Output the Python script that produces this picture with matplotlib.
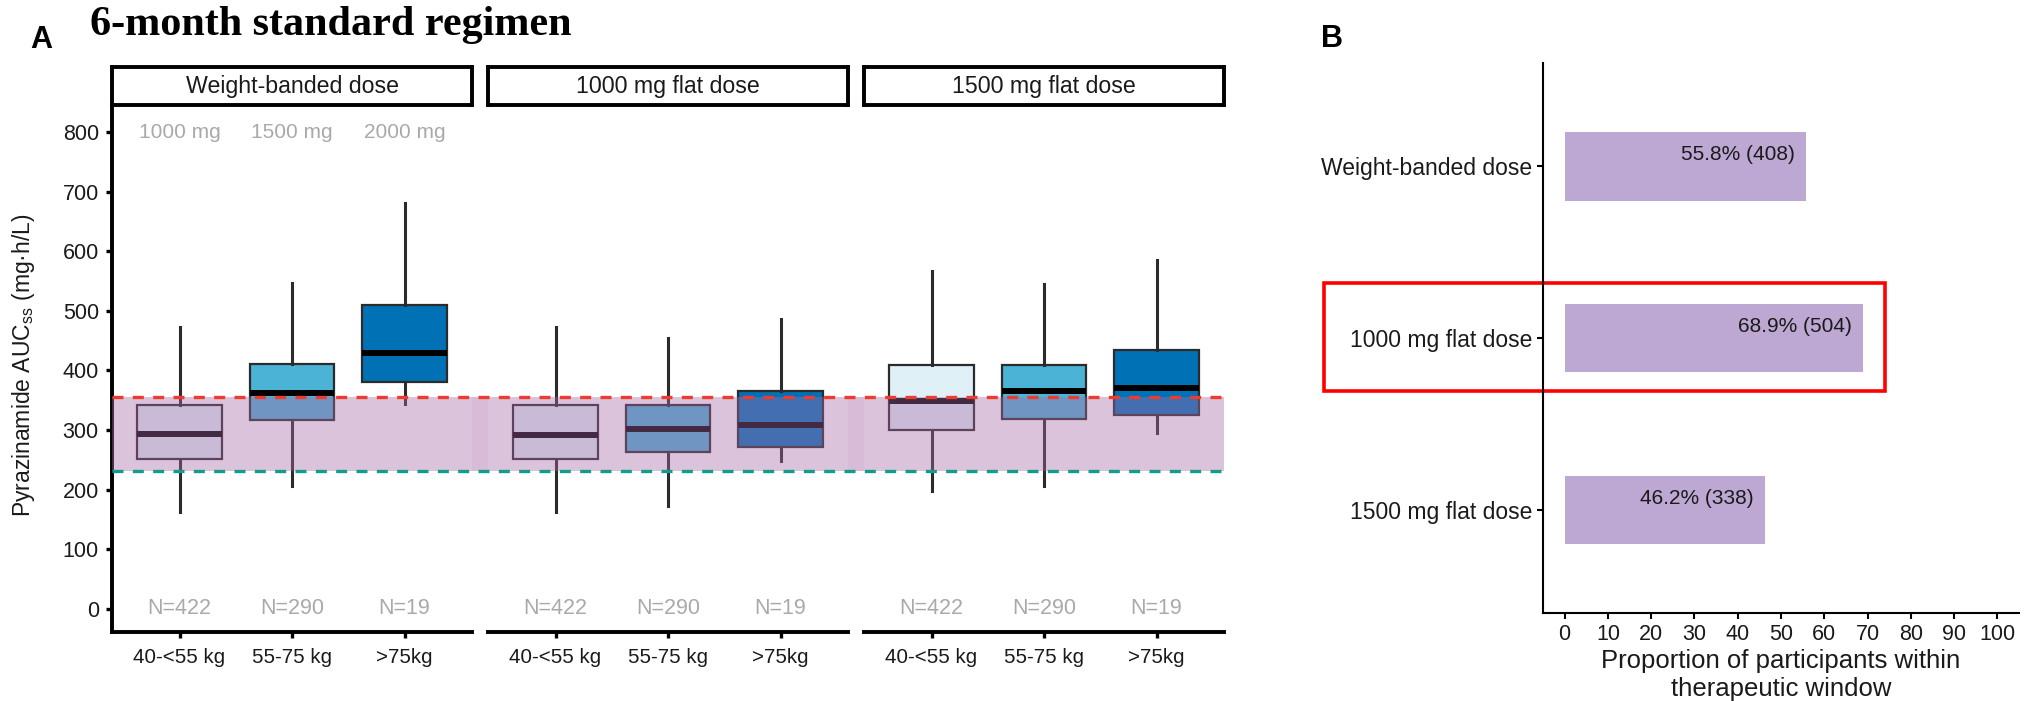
import matplotlib
matplotlib.use('Agg')
import matplotlib.pyplot as plt
from matplotlib.patches import Rectangle

plt.rcParams['font.family'] = ['Liberation Sans', 'DejaVu Sans']
plt.rcParams['mathtext.fontset'] = 'custom'
plt.rcParams['mathtext.rm'] = 'Liberation Sans'

# --- data -------------------------------------------------------------
facets = ['Weight-banded dose', '1000 mg flat dose', '1500 mg flat dose']
weight_bands = ['40-<55 kg', '55-75 kg', '>75kg']
n_per_band = [422, 290, 19]
banded_doses = ['1000 mg', '1500 mg', '2000 mg']

# box stats per facet, one value per weight band
whislo = [[163, 207, 344], [163, 172, 248], [198, 207, 296]]
q1 = [[252, 317, 381], [252, 264, 272], [301, 318, 325]]
med = [[293, 363, 430], [292, 302, 309], [349, 365, 371]]
q3 = [[342, 411, 510], [342, 342, 366], [409, 409, 435]]
whishi = [[473, 546, 681], [473, 455, 487], [567, 545, 585]]

window_low = 232
window_high = 355

dose_groups = ['Weight-banded dose', '1000 mg flat dose', '1500 mg flat dose']
pct_in_window = [55.8, 68.9, 46.2]
n_in_window = [408, 504, 338]

# --- styling ----------------------------------------------------------
W, H = 2030, 701
box_colors = ['#dff0f7', '#4ab3d6', '#0071b5']
band_color = '#a96ba8'
gray_txt = '#a9a9a9'
ink = '#1a1a1a'

fig = plt.figure(figsize=(W / 100, H / 100), dpi=100)


def fig_rect(x0, y0, x1, y1):
    # pixel box (top-left origin) -> figure fraction rect
    return [x0 / W, 1 - y1 / H, (x1 - x0) / W, (y1 - y0) / H]


ylim_a = (-38.6, 845.3)
panel_w, gap = 360, 16
panel_left0 = 112
panel_top, panel_bot = 105, 632

panels = []
for i, facet in enumerate(facets):
    left = panel_left0 + i * (panel_w + gap)
    ax = fig.add_axes(fig_rect(left, panel_top, left + panel_w, panel_bot))
    panels.append(ax)

    stats = []
    for j in range(3):
        stats.append({'med': med[i][j], 'q1': q1[i][j], 'q3': q3[i][j],
                      'whislo': whislo[i][j], 'whishi': whishi[i][j],
                      'fliers': []})
    bp = ax.bxp(stats, positions=[1, 2, 3], widths=0.75, patch_artist=True,
                showcaps=False, showfliers=False,
                boxprops=dict(edgecolor='#2b2b2b', linewidth=1.6),
                whiskerprops=dict(color='#2b2b2b', linewidth=2.2),
                medianprops=dict(color='black', linewidth=4.3,
                                 solid_capstyle='butt'))
    for patch, c in zip(bp['boxes'], box_colors):
        patch.set_facecolor(c)

    for j in range(3):
        ax.text(j + 1, 0, f'N={n_per_band[j]}', ha='center', va='center',
                fontsize=15.5, color=gray_txt)
        if i == 0:
            ax.text(j + 1, 800, banded_doses[j], ha='center', va='center',
                    fontsize=15, color=gray_txt)

    ax.set_xlim(0.4, 3.6)
    ax.set_ylim(*ylim_a)
    ax.set_xticks([1, 2, 3])
    ax.set_xticklabels(weight_bands)
    ax.tick_params(axis='x', length=4.5, width=2.4, pad=7, labelsize=14.8,
                   labelcolor=ink)
    for s in ['top', 'right']:
        ax.spines[s].set_visible(False)
    ax.spines['bottom'].set_linewidth(2.8)
    if i == 0:
        ax.spines['left'].set_linewidth(2.8)
        ax.set_yticks(range(0, 801, 100))
        ax.tick_params(axis='y', length=4.5, width=2.4, pad=5,
                       labelsize=15.5, labelcolor=ink)
    else:
        ax.spines['left'].set_visible(False)
        ax.set_yticks([])

    # facet strip
    st = fig.add_axes(fig_rect(left, 67, left + panel_w, panel_top))
    st.set_xticks([])
    st.set_yticks([])
    for s in st.spines.values():
        s.set_linewidth(2.8)
    st.text(0.5, 0.5, facet, ha='center', va='center', fontsize=16.7,
            color=ink, transform=st.transAxes)

# therapeutic window band + limits, drawn over all three panels
a_right = panel_left0 + 3 * panel_w + 2 * gap
ov = fig.add_axes(fig_rect(panel_left0, panel_top, a_right, panel_bot))
ov.set_xlim(panel_left0, a_right)
ov.set_ylim(*ylim_a)
ov.axis('off')
ov.patch.set_alpha(0)
ov.axhspan(window_low, window_high, color=band_color, alpha=0.4, lw=0)
for i in range(2):
    g0 = panel_left0 + (i + 1) * panel_w + i * gap
    ov.add_patch(Rectangle((g0, window_low), gap, window_high - window_low,
                           color=band_color, alpha=0.08, lw=0))
ov.axhline(window_high, color='#ee3b2f', lw=2.4, ls=(0, (3.3, 2.8)))
ov.axhline(window_low, color='#139c8a', lw=2.4, ls=(0, (3.3, 2.8)))

fig.text(24 / W, 1 - 365 / H, r'Pyrazinamide AUC$_{\mathrm{ss}}$ (mg·h/L)',
         rotation=90, ha='center', va='center', fontsize=16.5, color=ink)

fig.text(41 / W, 1 - 40 / H, 'A', ha='center', va='center', fontsize=22,
         fontweight='bold')
fig.text(90 / W, 1 - 35 / H, '6-month standard regimen', ha='left',
         va='baseline', fontsize=30.3, fontweight='bold',
         family=['Liberation Serif', 'DejaVu Serif'])

# --- panel B ----------------------------------------------------------
axb = fig.add_axes(fig_rect(1543, 63, 2019, 613))
ypos = [3, 2, 1]
axb.barh(ypos, pct_in_window, height=0.4, color='#bda8d3', lw=0)
for y, p, n in zip(ypos, pct_in_window, n_in_window):
    axb.text(p - 2.6, y + 0.065, f'{p}% ({n})', ha='right', va='center',
             fontsize=15, color=ink)
axb.set_xlim(-5, 105)
axb.set_ylim(0.4, 3.6)
axb.set_xticks(range(0, 101, 10))
axb.set_yticks(ypos)
axb.set_yticklabels(dose_groups)
axb.tick_params(axis='x', length=4, width=1.5, pad=4, labelsize=15.5,
                labelcolor=ink)
axb.tick_params(axis='y', length=4, width=1.5, pad=4, labelsize=16.5,
                labelcolor=ink)
for s in ['top', 'right']:
    axb.spines[s].set_visible(False)
for s in ['left', 'bottom']:
    axb.spines[s].set_linewidth(1.5)
axb.set_xlabel('Proportion of participants within\ntherapeutic window',
               fontsize=18.5, color=ink, labelpad=3, linespacing=1.2)
axb.add_patch(Rectangle((-55.7, 1.69), 129.8, 0.63, fill=False,
                        edgecolor='#ff0000', lw=2.6, clip_on=False))

fig.text(1332 / W, 1 - 39 / H, 'B', ha='center', va='center', fontsize=22,
         fontweight='bold')

fig.savefig('out.png', dpi=100, facecolor='white')
